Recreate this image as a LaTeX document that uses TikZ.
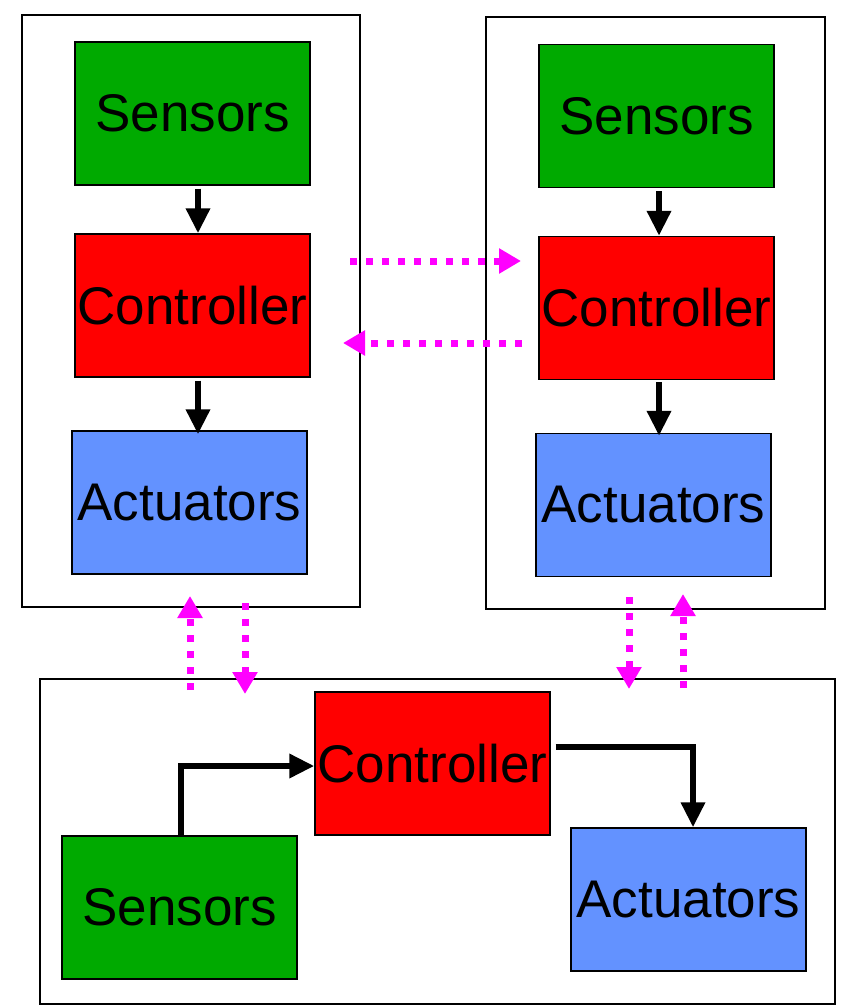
\documentclass[tikz,border=0pt]{standalone}
\usepackage{fontspec}
\setmainfont{Liberation Sans}
\usetikzlibrary{arrows.meta}
\definecolor{sgreen}{RGB}{0,170,0}
\definecolor{cred}{RGB}{255,0,0}
\definecolor{ablue}{RGB}{99,146,255}
\definecolor{mag}{RGB}{255,0,255}
\begin{document}
\begin{tikzpicture}[x=1pt,y=-1pt,
  blk/.style={draw=black,line width=1.3pt,minimum width=235pt,minimum height=143pt,inner sep=0pt,font=\fontsize{53}{58}\selectfont},
  sens/.style={blk,fill=sgreen},
  ctrl/.style={blk,fill=cred},
  act/.style={blk,fill=ablue},
  cont/.style={draw=black,line width=1.3pt},
  flow/.style={line width=6.5pt,-{Triangle[width=23pt,length=25pt]}},
  link/.style={mag,line width=7pt,dash pattern=on 7pt off 9pt,-{Triangle[width=24pt,length=22pt]}}]
\useasboundingbox (0,0) rectangle (846,1008);
% containers
\draw[cont] (22,15) rectangle (360,607);
\draw[cont] (486,17) rectangle (825,609);
\draw[cont] (40,679) rectangle (835,1004);
% left
\node[sens] (ls) at (192.5,113.5) {Sensors};
\node[ctrl] (lc) at (192.5,305.5) {Controller};
\node[act] (la) at (189.5,502.5) {Actuators};
% right
\node[sens] (rs) at (656.5,116) {Sensors};
\node[ctrl] (rc) at (656.5,308) {Controller};
\node[act] (ra) at (653.5,505) {Actuators};
% bottom
\node[ctrl] (bc) at (432.5,763.5) {Controller};
\node[sens] (bs) at (179.5,907.5) {Sensors};
\node[act] (ba) at (688.5,899.5) {Actuators};
% black flows
\coordinate (lx) at (198,0);
\coordinate (rx) at (659,0);
\draw[flow] ([yshift=-3pt]lx |- ls.south) -- (lx |- lc.north);
\draw[flow] ([yshift=-3pt]lx |- lc.south) -- ([yshift=-4pt]lx |- la.north);
\draw[flow] ([yshift=-3pt]rx |- rs.south) -- (rx |- rc.north);
\draw[flow] ([yshift=-2pt]rx |- rc.south) -- ([yshift=-3pt]rx |- ra.north);
\coordinate (b1) at (181,766);
\draw[flow] (bs.north -| b1) -- (b1) -- (bc.west |- b1);
\coordinate (b2) at (693,747);
\draw[flow] ([xshift=5pt]bc.east |- b2) -- (b2) -- (ba.north -| b2);
% magenta links
\coordinate (m1s) at (350,261); \coordinate (m1e) at (521,261);
\draw[link] (m1s) -- (m1e);
\coordinate (m2s) at (522,343); \coordinate (m2e) at (343,343);
\draw[link] (m2s) -- (m2e);
\coordinate (m3s) at (190,690); \coordinate (m3e) at (190,596);
\draw[link] (m3s) -- (m3e);
\coordinate (m4s) at (245,603); \coordinate (m4e) at (245,694);
\draw[link] (m4s) -- (m4e);
\coordinate (m5s) at (629,597); \coordinate (m5e) at (629,689);
\draw[link] (m5s) -- (m5e);
\coordinate (m6s) at (683,688); \coordinate (m6e) at (683,594);
\draw[link] (m6s) -- (m6e);
\end{tikzpicture}
\end{document}
